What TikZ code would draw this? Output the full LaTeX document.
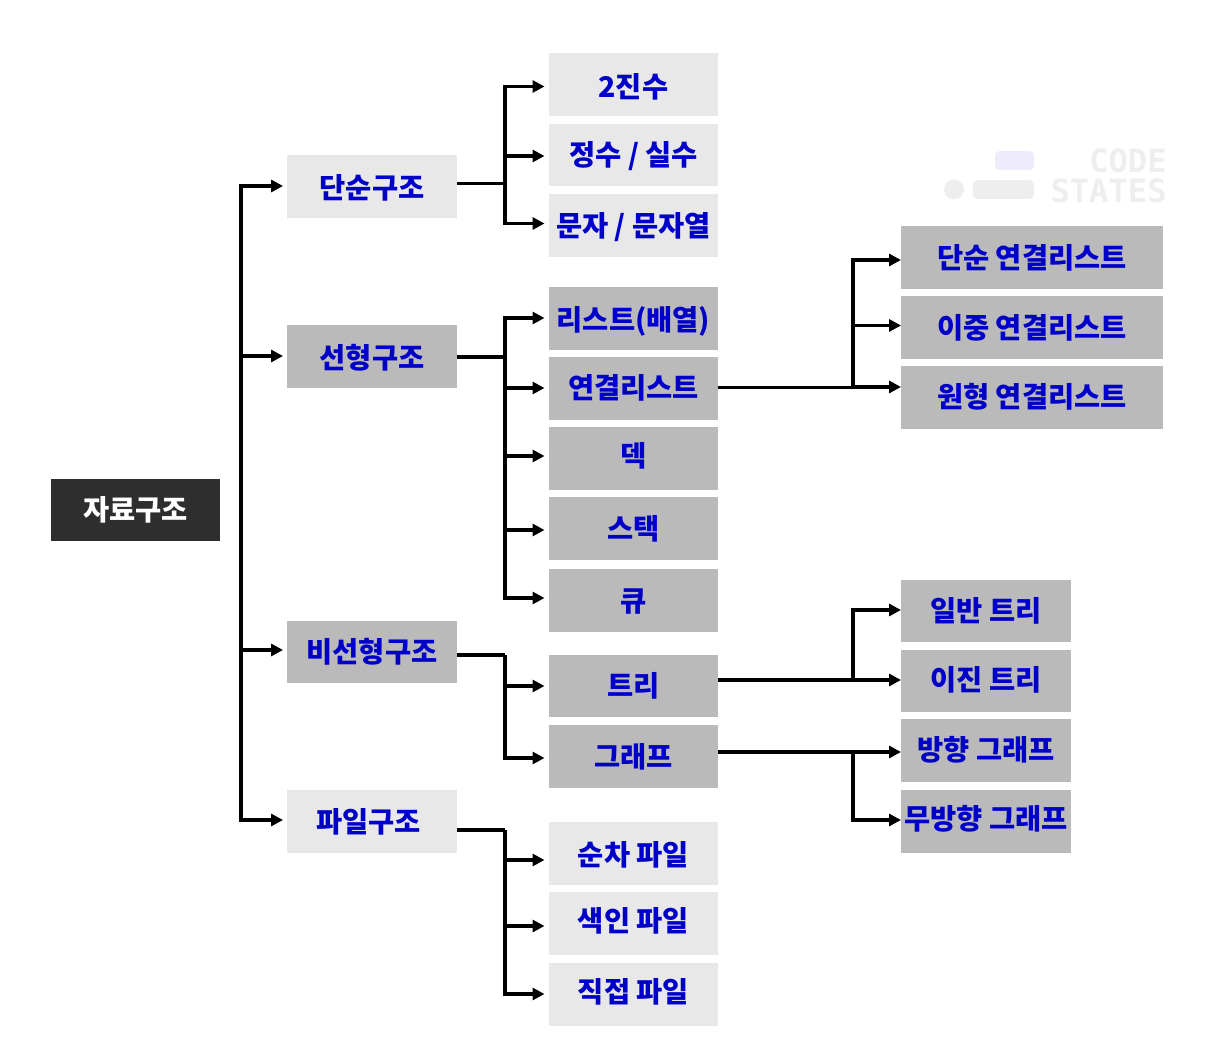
\documentclass[tikz,border=0pt]{standalone}
\usepackage{fontspec}
\setmainfont{Noto Sans CJK KR}
\newfontfamily\markfont{DejaVu Sans Mono}
\definecolor{dsblue}{RGB}{0,0,200}
\definecolor{dsdark}{RGB}{46,46,46}
\definecolor{dsgray}{RGB}{186,186,186}
\definecolor{dslight}{RGB}{232,232,232}
\definecolor{dsmark}{RGB}{238,238,238}
\definecolor{dslav}{RGB}{238,236,250}
\usetikzlibrary{arrows.meta}
\tikzset{
  box/.style={rectangle,fill=#1,text=dsblue,inner sep=0pt,outer sep=0pt,
              minimum height=12.6mm,minimum width=34mm,
              text height=14pt,text depth=1.6pt,
              font=\fontsize{16.2}{19}\selectfont\bfseries},
  box/.default=dsgray,
  widebox/.style={box,minimum width=52.4mm},
  link/.style={line width=2pt},
  arr/.style={-{Triangle[length=2.4mm,width=2.4mm]},line width=2pt},
  gaparr/.style={arr,shorten >=0.8mm},
  markblob/.style={rectangle,rounded corners=2.5pt,fill=#1,inner sep=0pt,outer sep=0pt,
                   minimum height=3.8mm},
  marktext/.style={dsmark,inner sep=0pt,font=\markfont\fontsize{18.3}{18}\selectfont\bfseries},
}

\begin{document}
\begin{tikzpicture}[x=0.02cm,y=-0.02cm]
  \useasboundingbox (0,0) rectangle (1211,1057);

  %% Root
  \node[box=dsdark,text=white] (root) at (135.5,510) {자료구조};

  %% First level
  \foreach \name/\y/\dy/\txt/\col in {
    simple/186.5/-0.4/단순구조/dslight,
    linear/356.5/-0.4/선형구조/dsgray,
    nonlinear/652/0/비선형구조/dsgray,
    filetype/821.5/0/{\kern-4pt 파일구조}/dslight}{
    \node[box=\col] (\name) at (372,\y) {\raisebox{\dy pt}{\txt}};
  }

  %% Second level
  \foreach \name/\y/\dy/\txt/\col in {
    binary/84.5/-1.4/2진수/dslight,
    number/155/0/{정수 / 실수}/dslight,
    chars/225.5/0/{문자 / 문자열}/dslight,
    array/318.5/-0.5/리스트(배열)/dsgray,
    linked/388.5/0.3/연결리스트/dsgray,
    deque/458.5/1.5/덱/dsgray,
    stack/528.5/0/스택/dsgray,
    queue/600.5/0/큐/dsgray,
    tree/686/0/트리/dsgray,
    graph/756.5/0/그래프/dsgray,
    seqfile/853.5/-0.5/순차 파일/dslight,
    idxfile/923.5/1.5/색인 파일/dslight,
    dirfile/994.5/1.7/직접 파일/dslight}{
    \node[box=\col] (\name) at (633.5,\y) {\raisebox{\dy pt}{\txt}};
  }

  %% Third level
  \foreach \name/\y/\dy/\txt in {
    single/257.5/0/단순 연결리스트,
    double/327.5/-0.2/이중 연결리스트,
    circular/397.5/0.3/원형 연결리스트}{
    \node[widebox] (\name) at (1032,\y) {\raisebox{\dy pt}{\txt}};
  }
  \foreach \name/\y/\dy/\txt in {
    general/611/0.5/일반 트리,
    bintree/681/0.6/이진 트리,
    directed/750.5/0.6/방향 그래프,
    undirected/821.5/1.6/무방향 그래프}{
    \node[box] (\name) at (986,\y) {\raisebox{\dy pt}{\txt}};
  }

  %% Joints on the vertical bars
  \coordinate (jRoot) at (241,510);
  \coordinate (jSimple) at (505,183.5);
  \coordinate (jLinear) at (505,357);
  \coordinate (jNonlinear) at (505,655);
  \coordinate (jFile) at (505,830);
  \coordinate (jLinked) at (853,387.5);
  \coordinate (jTree) at (853,680);
  \coordinate (jGraph) at (853,752);

  %% Stubs out of the boxes
  \foreach \from/\joint in {
    simple/jSimple,linear/jLinear,nonlinear/jNonlinear,filetype/jFile,
    linked/jLinked,tree/jTree,graph/jGraph}{
    \draw[link] (\from.east |- \joint) -- (\joint);
  }

  %% Arrows with a small gap before the box
  \foreach \joint/\to/\y in {
    jRoot/simple/186, jRoot/linear/356, jRoot/nonlinear/650, jRoot/filetype/820,
    jSimple/binary/86.5, jSimple/number/156, jSimple/chars/223.5,
    jLinear/array/318, jLinear/linked/388, jLinear/deque/456,
    jLinear/stack/530, jLinear/queue/598,
    jNonlinear/tree/686, jNonlinear/graph/758,
    jFile/seqfile/860, jFile/idxfile/926, jFile/dirfile/994}{
    \draw[gaparr] (\joint) |- (\to.west |- 0,\y);
  }

  %% Arrows that run up to the box
  \foreach \joint/\to/\y in {
    jLinked/single/260, jLinked/double/325.5, jLinked/circular/387,
    jTree/general/610, jTree/bintree/680,
    jGraph/directed/752, jGraph/undirected/820}{
    \draw[arr] (\joint) |- (\to.west |- 0,\y);
  }

  %% Watermark
  \node[markblob=dslav,minimum width=7.8mm] (markTop) at (1014.5,160.5) {};
  \node[markblob=dsmark,minimum width=12.2mm] (markBar) at (1003.5,189.5) {};
  \node[circle,fill=dsmark,inner sep=0pt,minimum size=4mm] (markDot) at (954,189.5) {};
  \node[marktext,anchor=east] (markCode) at (1167,160.5) {CODE};
  \node[marktext,anchor=east] (markStates) at (1167,190.5) {STATES};

\end{tikzpicture}
\end{document}
